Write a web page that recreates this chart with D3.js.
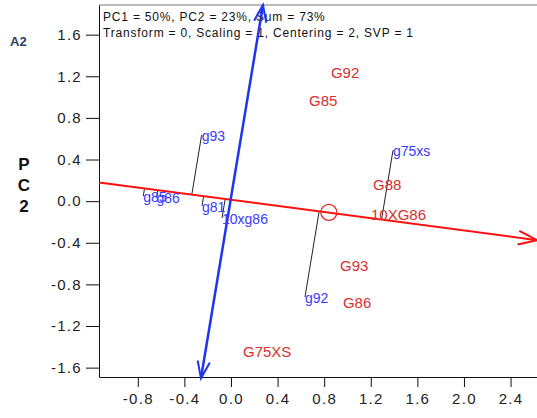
<!DOCTYPE html>
<html>
<head>
<meta charset="utf-8">
<script src="https://cdn.jsdelivr.net/npm/d3@7"></script>
<style>
    body { margin: 0; background: #fff; }
    svg { display: block; font-family: Arial, "Liberation Sans", sans-serif; }
</style>
</head>
<body>
<svg id="chart"></svg>
<script>
// header text and axis ticks
const headerLines = [
    'PC1 = 50%, PC2 = 23%, Sum = 73%',
    'Transform = 0, Scaling = 1, Centering = 2, SVP = 1'
];
const xTicks = [-0.8, -0.4, 0.0, 0.4, 0.8, 1.2, 1.6, 2.0, 2.4];
const yTicks = [-1.6, -1.2, -0.8, -0.4, 0.0, 0.4, 0.8, 1.2, 1.6];

// red (upper case) scores
const redNames = ['G92', 'G85', 'G88', '10XG86', 'G93', 'G86', 'G75XS'];
const redX = [0.858, 0.670, 1.219, 1.202, 0.936, 0.961, 0.103];
const redY = [1.240, 0.962, 0.163, -0.125, -0.615, -0.971, -1.442];

// blue (lower case) scores, projected onto the red axis
const blueNames = ['g93', 'g85', 'g86', 'g81', '10xg86', 'g75xs', 'g92'];
const blueX = [-0.252, -0.753, -0.639, -0.249, -0.077, 1.391, 0.635];
const blueY = [0.635, 0.048, 0.038, -0.048, -0.163, 0.490, -0.923];

// biplot axes (start, end) and the marked point on the red axis
const redAxisX = [-1.133, 2.627];
const redAxisY = [0.180, -0.375];
const blueAxisX = [-0.2575, 0.2747];
const blueAxisY = [-1.702, 1.885];
const markX = [0.84];
const markY = [-0.108];

const width = 537, height = 418;
const margin = {top: 5, right: 0, bottom: 41, left: 99};

const svg = d3.select('#chart')
    .attr('width', width)
    .attr('height', height);

const x = d3.scaleLinear()
    .domain([-1.133, 2.627])
    .range([margin.left, width - margin.right]);
const y = d3.scaleLinear()
    .domain([-1.69, 1.885])
    .range([height - margin.bottom, margin.top]);

const fmt = d => d.toFixed(1);

// frame top
svg.append('line')
    .attr('x1', margin.left).attr('x2', width)
    .attr('y1', margin.top).attr('y2', margin.top)
    .attr('stroke', '#777').attr('stroke-width', 1);

// axes
const xAxis = svg.append('g')
    .attr('transform', `translate(0,${height - margin.bottom})`)
    .call(d3.axisBottom(x).tickValues(xTicks).tickFormat(fmt).tickSize(10).tickSizeOuter(0).tickPadding(6));
const yAxis = svg.append('g')
    .attr('transform', `translate(${margin.left},0)`)
    .call(d3.axisLeft(y).tickValues(yTicks).tickFormat(fmt).tickSize(13).tickSizeOuter(0).tickPadding(4));
[xAxis, yAxis].forEach(ax => {
    ax.selectAll('path, line').attr('stroke', '#111');
    ax.selectAll('text')
        .attr('fill', '#222')
        .style('font-size', '15px')
        .style('letter-spacing', '1.3px');
});

// header
svg.append('g')
    .selectAll('text')
    .data(headerLines)
    .join('text')
    .attr('x', margin.left + 4)
    .attr('y', (d, i) => 21 + i * 16)
    .attr('fill', '#111')
    .style('font-size', '12px')
    .style('letter-spacing', '0.8px')
    .text(d => d);

svg.append('text')
    .attr('x', 10).attr('y', 46)
    .attr('fill', '#2b3f66')
    .style('font-size', '13px')
    .style('font-weight', 'bold')
    .text('A2');

svg.append('text')
    .attr('text-anchor', 'middle')
    .attr('fill', '#111')
    .style('font-size', '17px')
    .style('font-weight', 'bold')
    .selectAll('tspan')
    .data(['P', 'C', '2'])
    .join('tspan')
    .attr('x', 24)
    .attr('y', (d, i) => 170 + i * 21)
    .text(d => d);

// projection of each blue score onto the red axis (in data space)
const ax0 = [redAxisX[0], redAxisY[0]];
const dir = [redAxisX[1] - redAxisX[0], redAxisY[1] - redAxisY[0]];
function project(px, py) {
    const t = ((px - ax0[0]) * dir[0] + (py - ax0[1]) * dir[1]) / (dir[0] * dir[0] + dir[1] * dir[1]);
    return [ax0[0] + t * dir[0], ax0[1] + t * dir[1]];
}

const blue = blueNames.map((name, i) => ({name, x: blueX[i], y: blueY[i], foot: project(blueX[i], blueY[i])}));
svg.append('g')
    .selectAll('line')
    .data(blue)
    .join('line')
    .attr('x1', d => x(d.x)).attr('y1', d => y(d.y))
    .attr('x2', d => x(d.foot[0])).attr('y2', d => y(d.foot[1]))
    .attr('stroke', '#222').attr('stroke-width', 1);

// open arrow head at the end of a segment, drawn in pixel space
function arrowHead(g, x0, y0, x1, y1, color, len, ang) {
    const th = Math.atan2(y1 - y0, x1 - x0);
    const p1 = [x1 - len * Math.cos(th - ang), y1 - len * Math.sin(th - ang)];
    const p2 = [x1 - len * Math.cos(th + ang), y1 - len * Math.sin(th + ang)];
    g.append('path')
        .attr('d', `M${p1}L${x1},${y1}L${p2}`)
        .attr('fill', 'none')
        .attr('stroke', color)
        .attr('stroke-width', 2);
}

// red axis
const redG = svg.append('g');
redG.append('line')
    .attr('x1', x(redAxisX[0])).attr('y1', y(redAxisY[0]))
    .attr('x2', x(redAxisX[1])).attr('y2', y(redAxisY[1]))
    .attr('stroke', '#ff1010').attr('stroke-width', 2);
arrowHead(redG, x(redAxisX[0]), y(redAxisY[0]), x(redAxisX[1]), y(redAxisY[1]), '#ff1010', 20, 0.35);

// blue axis, arrow at both ends
const blueG = svg.append('g');
blueG.append('line')
    .attr('x1', x(blueAxisX[0])).attr('y1', y(blueAxisY[0]))
    .attr('x2', x(blueAxisX[1])).attr('y2', y(blueAxisY[1]))
    .attr('stroke', '#1f35ee').attr('stroke-width', 2.5);
arrowHead(blueG, x(blueAxisX[0]), y(blueAxisY[0]), x(blueAxisX[1]), y(blueAxisY[1]), '#1f35ee', 18, 0.35);
arrowHead(blueG, x(blueAxisX[1]), y(blueAxisY[1]), x(blueAxisX[0]), y(blueAxisY[0]), '#1f35ee', 18, 0.35);

svg.append('g')
    .selectAll('circle')
    .data(markX)
    .join('circle')
    .attr('cx', d => x(d))
    .attr('cy', (d, i) => y(markY[i]))
    .attr('r', 8)
    .attr('fill', 'none')
    .attr('stroke', '#ee2020')
    .attr('stroke-width', 1.2);

// labels
svg.append('g')
    .selectAll('text')
    .data(blue)
    .join('text')
    .attr('x', d => x(d.x))
    .attr('y', d => y(d.y))
    .attr('dy', '0.45em')
    .attr('fill', '#3a3aff')
    .style('font-size', '14px')
    .text(d => d.name);

svg.append('g')
    .selectAll('text')
    .data(redNames)
    .join('text')
    .attr('x', (d, i) => x(redX[i]))
    .attr('y', (d, i) => y(redY[i]))
    .attr('dy', '0.36em')
    .attr('fill', '#d63030')
    .style('font-size', '15px')
    .text(d => d);
</script>
</body>
</html>
